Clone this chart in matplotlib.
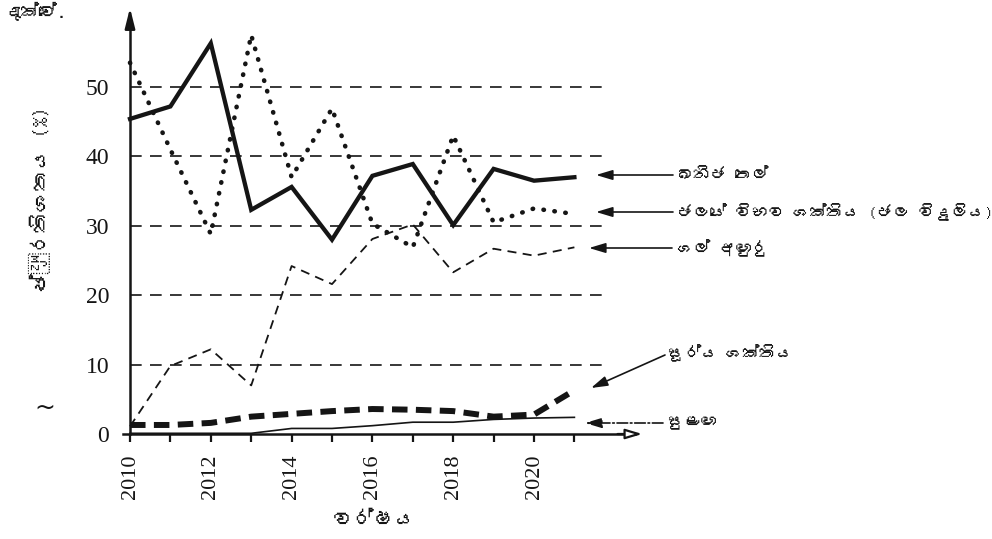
import matplotlib
matplotlib.use("Agg")
import matplotlib.pyplot as plt
from matplotlib import font_manager
from matplotlib.ft2font import FT2Font

years = [2010, 2011, 2012, 2013, 2014, 2015, 2016, 2017, 2018, 2019, 2020, 2021]
crude_oil = [45.4, 47.2, 56.3, 32.3, 35.6, 28.0, 37.2, 38.9, 30.1, 38.2, 36.5, 37.0]
hydro = [53.5, 41.0, 28.8, 57.5, 37.0, 46.9, 30.3, 26.9, 43.0, 30.5, 32.5, 31.7]
coal = [1.1, 9.8, 12.2, 7.0, 24.2, 21.6, 28.1, 30.2, 23.3, 26.7, 25.7, 26.9]
solar = [1.3, 1.3, 1.6, 2.5, 2.9, 3.3, 3.6, 3.5, 3.3, 2.5, 2.8, 6.3]
wind = [0.1, 0.1, 0.1, 0.1, 0.8, 0.8, 1.2, 1.7, 1.7, 2.1, 2.3, 2.4]

grid_values = [10, 20, 30, 40, 50]
ytick_values = [0, 10, 20, 30, 40, 50]
xtick_labels = ["2010", "", "2012", "", "2014", "", "2016", "", "2018", "", "2020", ""]

labels = ["ඛනිජ තෙල්", "ජලයේ විභව ශක්තිය (ජල විදුලිය)", "ගල් අඟුරු", "සූර්ය ශක්තිය", "සුළඟ"]
ylabel = "ප්‍රතිශතය (%)"
xlabel = "වර්ෂය"
corner_text = "දැක්වේ."


def find_font(ch):
    # look for any installed font that has this glyph
    for f in font_manager.fontManager.ttflist:
        try:
            if ord(ch) in FT2Font(f.fname).get_charmap():
                return f.name
        except Exception:
            pass
    return None


sinhala = find_font("ශ")
si_family = [sinhala, "DejaVu Sans"] if sinhala else ["DejaVu Sans"]
serif = "Liberation Serif"
ink = "#151515"

W, H = 992, 539
fig = plt.figure(figsize=(W / 100, H / 100), dpi=100)

# pixel mapping: 2010 -> x=130, 40.4 px per year; 0 -> y=434, 6.94 px per unit
x0, xs = 130.0, 40.4
y0, ys = 434.0, 6.94
xmin, xmax = 2009.5, 2023.0
vmin, vmax = -1.0, 62.0
left = (x0 + (xmin - 2010) * xs) / W
width = (xmax - xmin) * xs / W
bottom = (H - (y0 - vmin * ys)) / H
height = (vmax - vmin) * ys / H
ax = fig.add_axes([left, bottom, width, height])
ax.set_xlim(xmin, xmax)
ax.set_ylim(vmin, vmax)


def data_pt(px, py):
    return 2010 + (px - x0) / xs, (y0 - py) / ys


for g in grid_values:
    ax.plot([2010, 2021.75], [g, g], color=ink, lw=1.2, ls=(0, (7, 5)), zorder=1)

ax.plot(years, crude_oil, color=ink, lw=3.1, solid_joinstyle="miter", zorder=4)
ax.plot(years, hydro, color=ink, lw=3.3, ls=(0, (0.1, 2.3)), dash_capstyle="round", zorder=3)
ax.plot(years, coal, color=ink, lw=1.3, ls=(0, (5, 3.5)), zorder=3)
ax.plot(years, solar, color=ink, lw=4.3, ls=(0, (2.6, 1.4)), zorder=3)
ax.plot(years, wind, color=ink, lw=1.2, zorder=3)

# axes with arrows
for s in ["top", "right"]:
    ax.spines[s].set_visible(False)
ax.spines["left"].set_position(("data", 2010))
ax.spines["left"].set_bounds(0, 60)
ax.spines["bottom"].set_position(("data", 0))
ax.spines["bottom"].set_bounds(2009.83, 2022.5)
for s in ["left", "bottom"]:
    ax.spines[s].set_linewidth(1.8)
    ax.spines[s].set_color(ink)
ax.annotate("", xy=(2010, 61.8), xytext=(2010, 58), annotation_clip=False,
            arrowprops=dict(arrowstyle="-|>,head_length=1.2,head_width=0.3", color=ink, lw=1.8))
ax.annotate("", xy=(2022.75, 0), xytext=(2022.0, 0), annotation_clip=False,
            arrowprops=dict(arrowstyle="-|>,head_length=1.0,head_width=0.3", fc="white", ec=ink, lw=1.6))

ax.set_xticks(years)
ax.set_xticklabels(xtick_labels, rotation=90, fontfamily=serif, fontsize=16)
ax.tick_params(axis="x", direction="out", length=6, width=1.6, pad=9, colors=ink)
ax.set_yticks(ytick_values)
ax.set_yticklabels([str(v) for v in ytick_values], fontfamily=serif, fontsize=17)
ax.tick_params(axis="y", length=0, pad=15, colors=ink)

# labels
fig.text(40 / W, 1 - 200 / H, ylabel, rotation=90, ha="center", va="center",
         fontsize=15, family=si_family, color=ink)
fig.text(375 / W, 1 - 520 / H, xlabel, ha="center", va="center",
         fontsize=15, family=si_family, color=ink)
fig.text(3 / W, 1 - 11 / H, corner_text, ha="left", va="center",
         fontsize=13, family=si_family, color=ink)
fig.text(45 / W, 1 - 408 / H, "~", ha="center", va="center", fontsize=18, color=ink)

# pointer labels
pointers = [
    (labels[0], (596, 175), (673, 175), (677, 175), "-"),
    (labels[1], (596, 212), (673, 212), (677, 212), "-"),
    (labels[2], (589, 248), (672, 248), (677, 248), "-"),
    (labels[3], (591, 388), (665, 355), (668, 353), "-"),
    (labels[4], (585, 423), (663, 423), (667, 423), "-."),
]
for text, head, tail, tpos, style in pointers:
    ax.annotate("", xy=data_pt(*head), xytext=data_pt(*tail), annotation_clip=False,
                arrowprops=dict(arrowstyle="-|>,head_length=1.0,head_width=0.3",
                                color=ink, lw=1.2, ls=style, shrinkA=0, shrinkB=0))
    fig.text(tpos[0] / W, 1 - tpos[1] / H, text, ha="left", va="center",
             fontsize=12, family=si_family, color=ink)

fig.savefig("out.png", dpi=100)
